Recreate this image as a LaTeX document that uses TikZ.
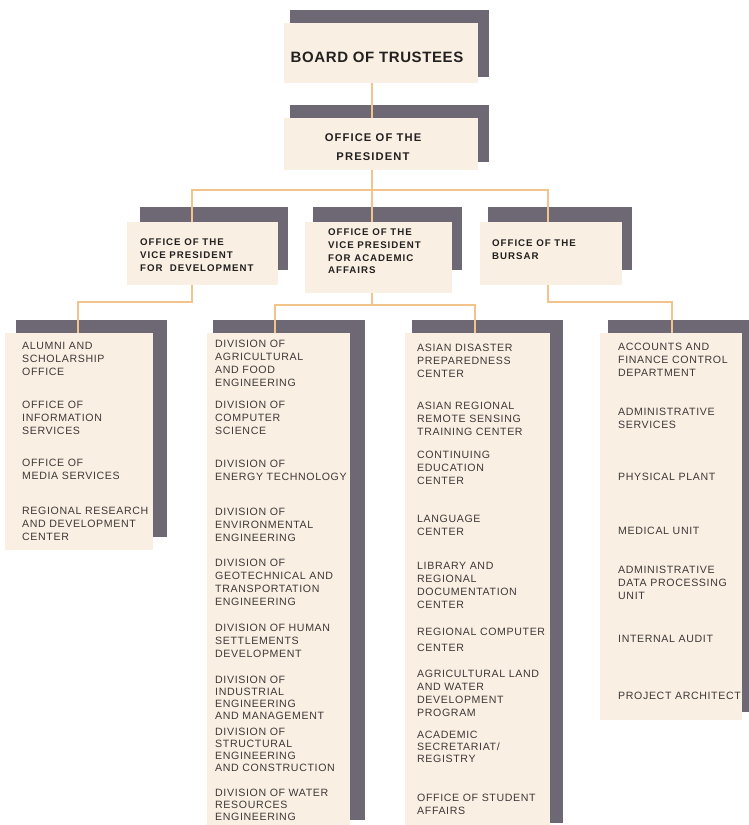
\documentclass[tikz,border=0pt]{standalone}
\usepackage{fontspec}
\setmainfont{Liberation Sans}
\newfontfamily\itemfont[LetterSpace=6]{Liberation Sans}
\newfontfamily\headfont[LetterSpace=10]{Liberation Sans}
\newfontfamily\boardfont[LetterSpace=4]{Liberation Sans}
\definecolor{creamc}{HTML}{F9EFE2}
\definecolor{grayc}{HTML}{6D6873}
\definecolor{orangec}{HTML}{F2C38A}
\definecolor{textc}{HTML}{3E3838}
\definecolor{headc}{HTML}{222020}
\begin{document}
\begin{tikzpicture}[x=1pt,y=-1pt,
  cream/.style={fill=creamc, draw=none, inner sep=0pt, outer sep=0pt},
  shadowbar/.style={fill=grayc},
  conn/.style={draw=orangec, line width=2.6pt},
  itm/.style={anchor=north west, inner sep=0pt, align=left, text=textc, yshift=3.8pt,
    font=\itemfont\fontsize{10.6}{12.8}\selectfont},
  tight/.style={font=\itemfont\fontsize{10.6}{12}\selectfont},
  hd/.style={anchor=north west, inner sep=0pt, align=left, text=headc, yshift=3.5pt,
    font=\headfont\bfseries\fontsize{9.7}{12.8}\selectfont},
  hdc/.style={anchor=north, inner sep=0pt, align=center, text=headc, yshift=4pt,
    font=\headfont\bfseries\fontsize{11.2}{19}\selectfont}]
\useasboundingbox (0,0) rectangle (749,825);
\fill[white] (0,0) rectangle (749,825);

% shadow bars
\fill[shadowbar] (290,10) rectangle (489,77);
\fill[shadowbar] (290,105) rectangle (489,162);
\fill[shadowbar] (140,207) rectangle (288,270);
\fill[shadowbar] (313,207) rectangle (462,270);
\fill[shadowbar] (488,207) rectangle (632,270);
\fill[shadowbar] (16,320) rectangle (167,537);
\fill[shadowbar] (213,320) rectangle (365,820);
\fill[shadowbar] (412,320) rectangle (563,823);
\fill[shadowbar] (608,320) rectangle (749,712);

% cream boxes
\node[cream, minimum width=194pt, minimum height=60pt] (board) at (381,53) {};
\node[cream, minimum width=194pt, minimum height=52pt] (pres) at (381,144) {};
\node[cream, minimum width=151pt, minimum height=63pt] (vpdev) at (202.5,253.5) {};
\node[cream, minimum width=147pt, minimum height=71pt] (vpaca) at (378.5,257.5) {};
\node[cream, minimum width=142pt, minimum height=63pt] (bursar) at (551,253.5) {};
\node[cream, minimum width=148pt, minimum height=217pt] (col1) at (79,441.5) {};
\node[cream, minimum width=143pt, minimum height=492pt] (col2) at (278.5,579) {};
\node[cream, minimum width=145pt, minimum height=492pt] (col3) at (477.5,579) {};
\node[cream, minimum width=142pt, minimum height=387pt] (col4) at (671,526.5) {};

% junction coordinates
\coordinate (bus) at (372,190);
\coordinate (busl) at (192,190);
\coordinate (busr) at (548,190);
\coordinate (devj) at (192,302);
\coordinate (c1j) at (78,302);
\coordinate (acaj) at (372,305);
\coordinate (c2j) at (275,305);
\coordinate (c3j) at (475,305);
\coordinate (burj) at (548,302);
\coordinate (c4j) at (672,302);

% connectors
\draw[conn] (board.south -| bus) -- (pres.north -| bus);
\draw[conn] (pres.south -| bus) -- (bus);
\draw[conn] (vpdev.north -| busl) -- (busl) -- (busr) -- (bursar.north -| busr);
\draw[conn] (bus) -- (vpaca.north -| bus);
\draw[conn] (vpdev.south -| devj) -- (devj) -- (c1j) -- (col1.north -| c1j);
\draw[conn] (vpaca.south -| acaj) -- (acaj);
\draw[conn] (col2.north -| c2j) -- (c2j) -- (c3j) -- (col3.north -| c3j);
\draw[conn] (bursar.south -| burj) -- (burj) -- (c4j) -- (col4.north -| c4j);

% top labels
\node[inner sep=0pt, text=headc, font=\boardfont\bfseries\fontsize{15}{18}\selectfont] (tboard) at (377,57) {BOARD OF TRUSTEES};
\node[hdc] (tpres) at (373,137) {OFFICE OF THE\\PRESIDENT};
\node[hd] (tvpdev) at (140,242) {OFFICE OF THE\\VICE PRESIDENT\\FOR\ \ DEVELOPMENT};
\node[hd] (tvpaca) at (328,232) {OFFICE OF THE\\VICE PRESIDENT\\FOR ACADEMIC\\AFFAIRS};
\node[hd] (tbursar) at (492,243) {OFFICE OF THE\\BURSAR};

% column 1
\node[itm] (a1) at (22,346) {ALUMNI AND\\SCHOLARSHIP\\OFFICE};
\node[itm] (a2) at (22,405) {OFFICE OF\\INFORMATION\\SERVICES};
\node[itm] (a3) at (22,463) {OFFICE OF\\MEDIA SERVICES};
\node[itm] (a4) at (22,511) {REGIONAL RESEARCH\\AND DEVELOPMENT\\CENTER};

% column 2
\node[itm] (b1) at (215,344) {DIVISION OF\\AGRICULTURAL\\AND FOOD\\ENGINEERING};
\node[itm] (b2) at (215,405) {DIVISION OF\\COMPUTER\\SCIENCE};
\node[itm] (b3) at (215,464) {DIVISION OF\\ENERGY TECHNOLOGY};
\node[itm] (b4) at (215,512) {DIVISION OF\\ENVIRONMENTAL\\ENGINEERING};
\node[itm] (b5) at (215,563) {DIVISION OF\\GEOTECHNICAL AND\\TRANSPORTATION\\ENGINEERING};
\node[itm] (b6) at (215,628) {DIVISION OF HUMAN\\SETTLEMENTS\\DEVELOPMENT};
\node[itm, tight] (b7) at (215,680) {DIVISION OF\\INDUSTRIAL\\ENGINEERING\\AND MANAGEMENT};
\node[itm, tight] (b8) at (215,732) {DIVISION OF\\STRUCTURAL\\ENGINEERING\\AND CONSTRUCTION};
\node[itm, tight] (b9) at (215,793) {DIVISION OF WATER\\RESOURCES\\ENGINEERING};

% column 3
\node[itm] (c1) at (417,348) {ASIAN DISASTER\\PREPAREDNESS\\CENTER};
\node[itm] (c2) at (417,406) {ASIAN REGIONAL\\REMOTE SENSING\\TRAINING CENTER};
\node[itm] (c3) at (417,455) {CONTINUING\\EDUCATION\\CENTER};
\node[itm] (c4) at (417,519) {LANGUAGE\\CENTER};
\node[itm] (c5) at (417,566) {LIBRARY AND\\REGIONAL\\DOCUMENTATION\\CENTER};
\node[itm] (c6) at (417,632) {REGIONAL COMPUTER\\[3pt]CENTER};
\node[itm] (c7) at (417,674) {AGRICULTURAL LAND\\AND WATER\\DEVELOPMENT\\PROGRAM};
\node[itm, tight] (c8) at (417,735) {ACADEMIC\\SECRETARIAT/\\REGISTRY};
\node[itm] (c9) at (417,798) {OFFICE OF STUDENT\\AFFAIRS};

% column 4
\node[itm] (d1) at (618,347) {ACCOUNTS AND\\FINANCE CONTROL\\DEPARTMENT};
\node[itm] (d2) at (618,412) {ADMINISTRATIVE\\SERVICES};
\node[itm] (d3) at (618,477) {PHYSICAL PLANT};
\node[itm] (d4) at (618,531) {MEDICAL UNIT};
\node[itm] (d5) at (618,570) {ADMINISTRATIVE\\DATA PROCESSING\\UNIT};
\node[itm] (d6) at (618,639) {INTERNAL AUDIT};
\node[itm] (d7) at (618,696) {PROJECT ARCHITECT};
\end{tikzpicture}
\end{document}
